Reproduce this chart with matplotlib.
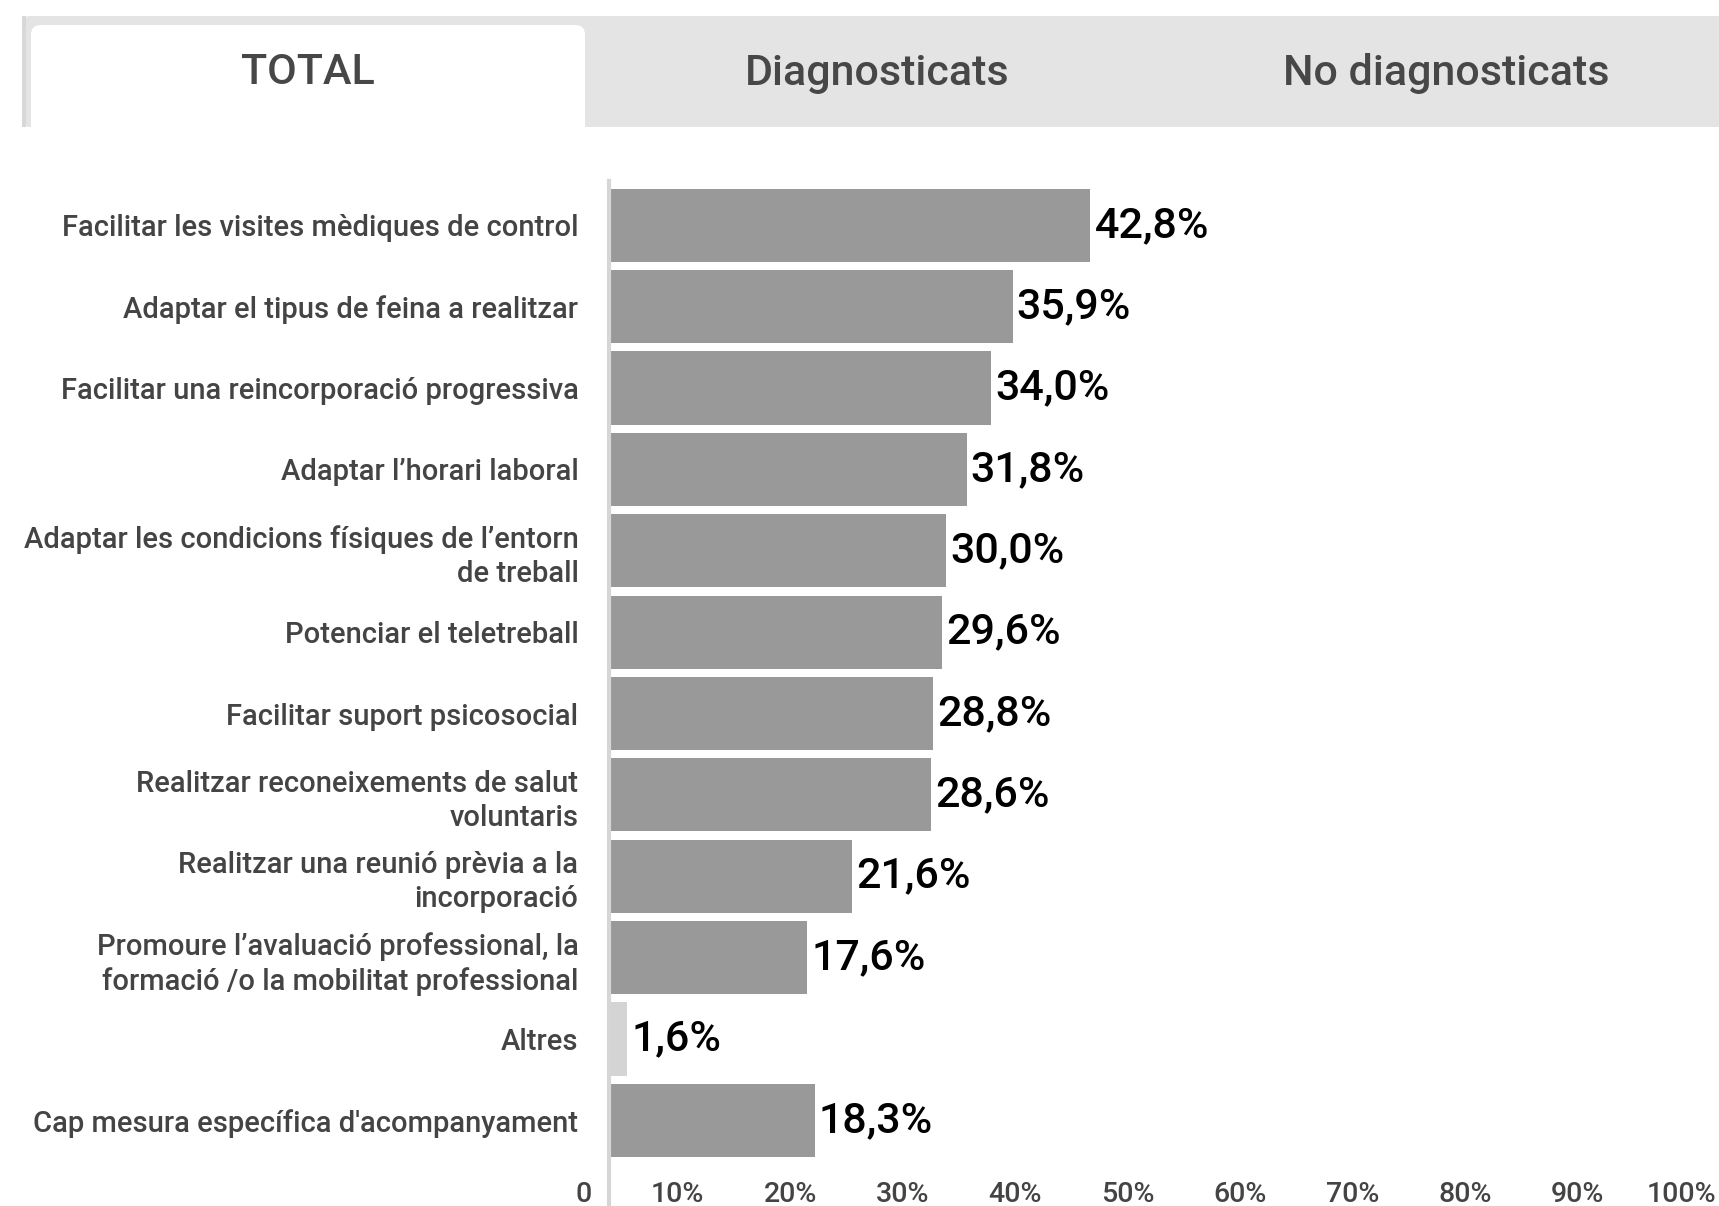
import matplotlib
matplotlib.use('Agg')
from matplotlib import pyplot as plt
from matplotlib.patches import Rectangle, FancyBboxPatch
from matplotlib.transforms import ScaledTranslation

plt.rcParams['font.family'] = ['Roboto', 'DejaVu Sans']

# data
categories = [
    'Facilitar les visites mèdiques de control',
    'Adaptar el tipus de feina a realitzar',
    'Facilitar una reincorporació progressiva',
    'Adaptar l\u2019horari laboral',
    'Adaptar les condicions físiques de l\u2019entorn\nde treball',
    'Potenciar el teletreball',
    'Facilitar suport psicosocial',
    'Realitzar reconeixements de salut\nvoluntaris',
    'Realitzar una reunió prèvia a la\nincorporació',
    'Promoure l\u2019avaluació professional, la\nformació /o la mobilitat professional',
    'Altres',
    "Cap mesura específica d'acompanyament",
]
values = [42.8, 35.9, 34.0, 31.8, 30.0, 29.6, 28.8, 28.6, 21.6, 17.6, 1.6, 18.3]
bar_colors = ['#999999'] * 10 + ['#d4d4d4', '#999999']
tabs = ['TOTAL', 'Diagnosticats', 'No diagnosticats']
ticks = [0, 10, 20, 30, 40, 50, 60, 70, 80, 90, 100]
tick_labels = ['0'] + ['%d%%' % t for t in ticks[1:]]

W, H = 1719, 1206
fig = plt.figure(figsize=(W / 100, H / 100), dpi=100)

# tab strip on top (pixel coordinates)
top = fig.add_axes([0, 0, 1, 1], zorder=0)
top.set_xlim(0, W)
top.set_ylim(H, 0)
top.axis('off')
top.add_patch(FancyBboxPatch((22, 16), W, 111, boxstyle='round,pad=0,rounding_size=8',
                             fc='#e4e4e4', ec='none'))
top.add_patch(Rectangle((22, 16), 4, 111, fc='#d8d8d8', ec='none'))
top.add_patch(FancyBboxPatch((31, 25), 554, 130, boxstyle='round,pad=0,rounding_size=10',
                             fc='white', ec='none'))
top.add_patch(Rectangle((0, 127), W, 60, fc='white', ec='none'))
for x, t in zip([308, 877, 1446], tabs):
    top.text(x, 73, t, ha='center', va='center', fontsize=31, color='#474747',
             fontweight='medium')

# bar chart
px_left, px_zero100 = 609, 1733.5
px_top, px_bottom = 181, 1170
ax = fig.add_axes([px_left / W, (H - px_bottom) / H, (px_zero100 - px_left) / W,
                   (px_bottom - px_top) / H], zorder=1)
ax.patch.set_alpha(0)
pos = list(range(len(categories)))
ax.barh(pos, values, height=0.9, color=bar_colors)
ax.set_xlim(0, 100)
ax.set_ylim(11.61, -0.544)

for p, v in zip(pos, values):
    ax.annotate(('%.1f' % v).replace('.', ',') + '%', (v, p), xytext=(3, 0),
                textcoords='offset points', ha='left', va='center',
                fontsize=31, color='black', fontweight='medium')

ax.set_yticks(pos)
ax.set_yticklabels(categories, fontsize=21, color='#444444', fontweight='medium',
                   linespacing=1.27)
ax.tick_params(axis='y', length=0, pad=22)
ax.set_xticks(ticks)
ax.set_xticklabels(tick_labels, fontsize=20.5, color='#444444', fontweight='medium')
ax.tick_params(axis='x', length=0, pad=8)
shift = ScaledTranslation(-17 / 100, 0, fig.dpi_scale_trans)
for lab in ax.get_xticklabels():
    lab.set_ha('right')
    lab.set_transform(lab.get_transform() + shift)

for s in ['top', 'right', 'bottom', 'left']:
    ax.spines[s].set_visible(False)
ax.axvline(0, ymin=-0.04, ymax=1, color='#d6d6d6', lw=3, clip_on=False)

fig.savefig('out.png', dpi=100)
